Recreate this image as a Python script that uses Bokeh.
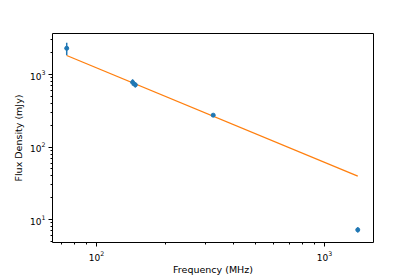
from bokeh.plotting import figure
from bokeh.embed import file_html
from bokeh.resources import INLINE
from bokeh.models import FixedTicker, LogTickFormatter, Range1d

# Data (frequency in MHz, flux density in mJy)
freq = [74, 144, 148, 325, 1400]
flux = [2300, 780, 720, 275, 7.2]
flux_err = [450, 80, 60, 10, 0.6]

# Power-law fit line endpoints
fit_freq = [74, 1400]
fit_flux = [1830, 39.8]

x_major = [10, 100, 1000, 10000]
x_minor = [m * d for d in [10, 100, 1000] for m in range(2, 10)]
y_major = [1, 10, 100, 1000, 10000]
y_minor = [m * d for d in [1, 10, 100, 1000] for m in range(2, 10)]

p = figure(width=415, height=277, x_axis_type="log", y_axis_type="log",
           x_range=Range1d(64.1, 1641), y_range=Range1d(4.82, 3680),
           output_backend="svg", toolbar_location=None,
           min_border_left=52, min_border_right=42, min_border_top=33, min_border_bottom=35)

p.outline_line_color = "black"
p.outline_line_alpha = 1
p.outline_line_width = 1
p.xgrid.visible = False
p.ygrid.visible = False

p.xaxis.ticker = FixedTicker(ticks=x_major, minor_ticks=x_minor)
p.yaxis.ticker = FixedTicker(ticks=y_major, minor_ticks=y_minor)
p.xaxis.formatter = LogTickFormatter()
p.yaxis.formatter = LogTickFormatter()

for ax in [p.xaxis[0], p.yaxis[0]]:
    ax.axis_line_color = None
    ax.major_tick_line_color = "black"
    ax.minor_tick_line_color = "black"
    ax.major_tick_out = 4
    ax.major_tick_in = 0
    ax.minor_tick_out = 2
    ax.minor_tick_in = 0
    ax.major_label_text_font = "DejaVu Sans"
    ax.major_label_text_font_size = "9px"
    ax.major_label_text_color = "black"
    ax.axis_label_text_font = "DejaVu Sans"
    ax.axis_label_text_font_size = "9.5px"
    ax.axis_label_text_font_style = "normal"
    ax.axis_label_text_color = "black"

p.xaxis.major_label_standoff = 4
p.yaxis.major_label_standoff = 3
p.xaxis.axis_label = "Frequency (MHz)"
p.yaxis.axis_label = "Flux Density (mJy)"
p.xaxis.axis_label_standoff = 0
p.yaxis.axis_label_standoff = 3

# fit line
p.line(fit_freq, fit_flux, line_color="#ff7f0e", line_width=1.3)

# error bars
lo = [f - e for f, e in zip(flux, flux_err)]
hi = [f + e for f, e in zip(flux, flux_err)]
p.segment(x0=freq, y0=lo, x1=freq, y1=hi, line_color="#1f77b4", line_width=1.5)
p.scatter(freq, flux, size=4, color="#1f77b4")

open("out.html", "w").write(file_html(p, INLINE))
